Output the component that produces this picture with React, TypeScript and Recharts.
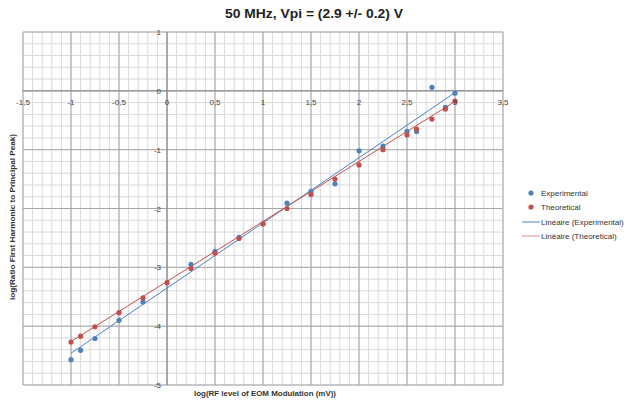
import React from 'react';
import { ScatterChart, Scatter, XAxis, YAxis, CartesianGrid, ReferenceLine, ReferenceDot } from 'recharts';

const W = 638;
const H = 402;

const titleText = '50 MHz, Vpi = (2.9 +/- 0.2) V';
const xTitle = 'log(RF level of EOM Modulation (mV))';
const yTitle = 'log(Ratio First Harmonic to Principal Peak)';

const xTickValues = [-1.5, -1, -0.5, 0, 0.5, 1, 1.5, 2, 2.5, 3, 3.5];
const xTickLabels = ['-1,5', '-1', '-0,5', '0', '0,5', '1', '1,5', '2', '2,5', '3', '3,5'];
const yTickValues = [1, 0, -1, -2, -3, -4, -5];
const yTickLabels = ['1', '0', '-1', '-2', '-3', '-4', '-5'];

const xMinor = Array.from({ length: 51 }, (_, i) => Math.round(-15 + i) / 10);
const yMinor = Array.from({ length: 31 }, (_, i) => Math.round(-25 + i) / 5);

const expX = [-1, -0.9, -0.75, -0.5, -0.25, 0.25, 0.5, 0.75, 1, 1.25, 1.5, 1.75, 2, 2.25, 2.5, 2.6, 2.76, 2.9, 3];
const expY = [-4.57, -4.41, -4.21, -3.9, -3.59, -2.95, -2.73, -2.49, -2.26, -1.91, -1.71, -1.58, -1.02, -0.94, -0.69, -0.69, 0.06, -0.28, -0.04];

const thX = [-1, -0.9, -0.75, -0.5, -0.25, 0, 0.25, 0.5, 0.75, 1, 1.25, 1.5, 1.75, 2, 2.25, 2.5, 2.6, 2.76, 2.9, 3];
const thY = [-4.27, -4.17, -4.01, -3.77, -3.52, -3.26, -3.02, -2.76, -2.51, -2.26, -2.0, -1.76, -1.5, -1.26, -1.0, -0.75, -0.65, -0.48, -0.31, -0.175];

const expTrendX = [-1, 3];
const expTrendY = [-4.46, -0.03];
const thTrendX = [-1, 3];
const thTrendY = [-4.26, -0.18];

const seriesNames = ['Experimental', 'Theoretical', 'Linéaire (Experimental)', 'Linéaire (Theoretical)'];

const BLUE = '#4f81bd';
const RED = '#c0504d';
const FONT = '"Liberation Sans", Arial, sans-serif';

const toPts = (xs: number[], ys: number[]) => xs.map((x, i) => ({ x, y: ys[i] }));
const expData = toPts(expX, expY);
const thData = toPts(thX, thY);
const expTrend = toPts(expTrendX, expTrendY);
const thTrend = toPts(thTrendX, thTrendY);

const dot = (color: string) => (p: any) => <circle cx={p.cx} cy={p.cy} r={2.6} fill={color} />;
const noShape = () => <g />;
const noTick = () => <g />;

export default function App() {
  return (
    <div style={{ position: 'absolute', left: 0, top: 0, width: W, height: H, background: '#fff' }}>
      <ScatterChart width={W} height={H} margin={{ top: 32, right: 135, bottom: 17, left: 23 }}>
        <XAxis xAxisId={0} type="number" dataKey="x" domain={[-1.5, 3.5]} ticks={xMinor} interval={0} tick={noTick} tickLine={false} axisLine={false} height={0} allowDataOverflow />
        <YAxis yAxisId={0} type="number" dataKey="y" domain={[-5, 1]} ticks={yMinor} interval={0} tick={noTick} tickLine={false} axisLine={false} width={0} allowDataOverflow />
        <XAxis xAxisId="major" type="number" dataKey="x" domain={[-1.5, 3.5]} ticks={xTickValues} interval={0} tick={noTick} tickLine={false} axisLine={false} height={0} allowDataOverflow />
        <YAxis yAxisId="major" type="number" dataKey="y" domain={[-5, 1]} ticks={yTickValues} interval={0} tick={noTick} tickLine={false} axisLine={false} width={0} allowDataOverflow />
        <CartesianGrid xAxisId={0} yAxisId={0} stroke="#d9d9d9" strokeWidth={1} />
        <CartesianGrid xAxisId="major" yAxisId="major" stroke="#a6a6a6" strokeWidth={1} />
        <ReferenceLine x={0} stroke="#868686" strokeWidth={1} />
        <ReferenceLine y={0} stroke="#868686" strokeWidth={1} />
        <Scatter name={seriesNames[2]} data={expTrend} line={{ stroke: BLUE, strokeWidth: 1 }} shape={noShape} legendType="none" isAnimationActive={false} />
        <Scatter name={seriesNames[3]} data={thTrend} line={{ stroke: RED, strokeWidth: 1 }} shape={noShape} legendType="none" isAnimationActive={false} />
        <Scatter name={seriesNames[0]} data={expData} fill={BLUE} shape={dot(BLUE)} isAnimationActive={false} />
        <Scatter name={seriesNames[1]} data={thData} fill={RED} shape={dot(RED)} isAnimationActive={false} />
        {xTickValues.map((v, i) => (
          <ReferenceDot key={'xl' + i} x={v} y={0} r={0}
            shape={(p: any) => (
              <text x={p.cx} y={p.cy + 14} textAnchor="middle" fontSize={8} fontFamily={FONT} fill="#404040">{xTickLabels[i]}</text>
            )} />
        ))}
        {yTickValues.map((v, i) => (
          <ReferenceDot key={'yl' + i} x={0} y={v} r={0}
            shape={(p: any) => (
              <text x={p.cx - 6} y={p.cy + 3} textAnchor="end" fontSize={8} fontFamily={FONT} fill="#404040">{yTickLabels[i]}</text>
            )} />
        ))}
      </ScatterChart>
      <svg width={W} height={H} style={{ position: 'absolute', left: 0, top: 0, pointerEvents: 'none' }}>
        <text x={314} y={18} textAnchor="middle" fontSize={13} fontWeight="bold" fontFamily={FONT} fill="#222" textLength={178} lengthAdjust="spacingAndGlyphs">{titleText}</text>
        <text x={265} y={396} textAnchor="middle" fontSize={8} fontWeight="bold" fontFamily={FONT} fill="#333" textLength={142} lengthAdjust="spacingAndGlyphs">{xTitle}</text>
        <text transform="translate(15,217) rotate(-90)" textAnchor="middle" fontSize={8} fontWeight="bold" fontFamily={FONT} fill="#333" textLength={166} lengthAdjust="spacingAndGlyphs">{yTitle}</text>
        <circle cx={531} cy={193} r={2.6} fill={BLUE} />
        <text x={541} y={196} fontSize={8} fontFamily={FONT} fill="#333">{seriesNames[0]}</text>
        <circle cx={531} cy={207} r={2.6} fill={RED} />
        <text x={541} y={210} fontSize={8} fontFamily={FONT} fill="#333">{seriesNames[1]}</text>
        <line x1={522} x2={540} y1={222} y2={222} stroke={BLUE} strokeWidth={1} />
        <text x={541} y={225} fontSize={8} fontFamily={FONT} fill="#333">{seriesNames[2]}</text>
        <line x1={522} x2={540} y1={236} y2={236} stroke="#d99694" strokeWidth={1} />
        <text x={541} y={239} fontSize={8} fontFamily={FONT} fill="#333">{seriesNames[3]}</text>
      </svg>
    </div>
  );
}
